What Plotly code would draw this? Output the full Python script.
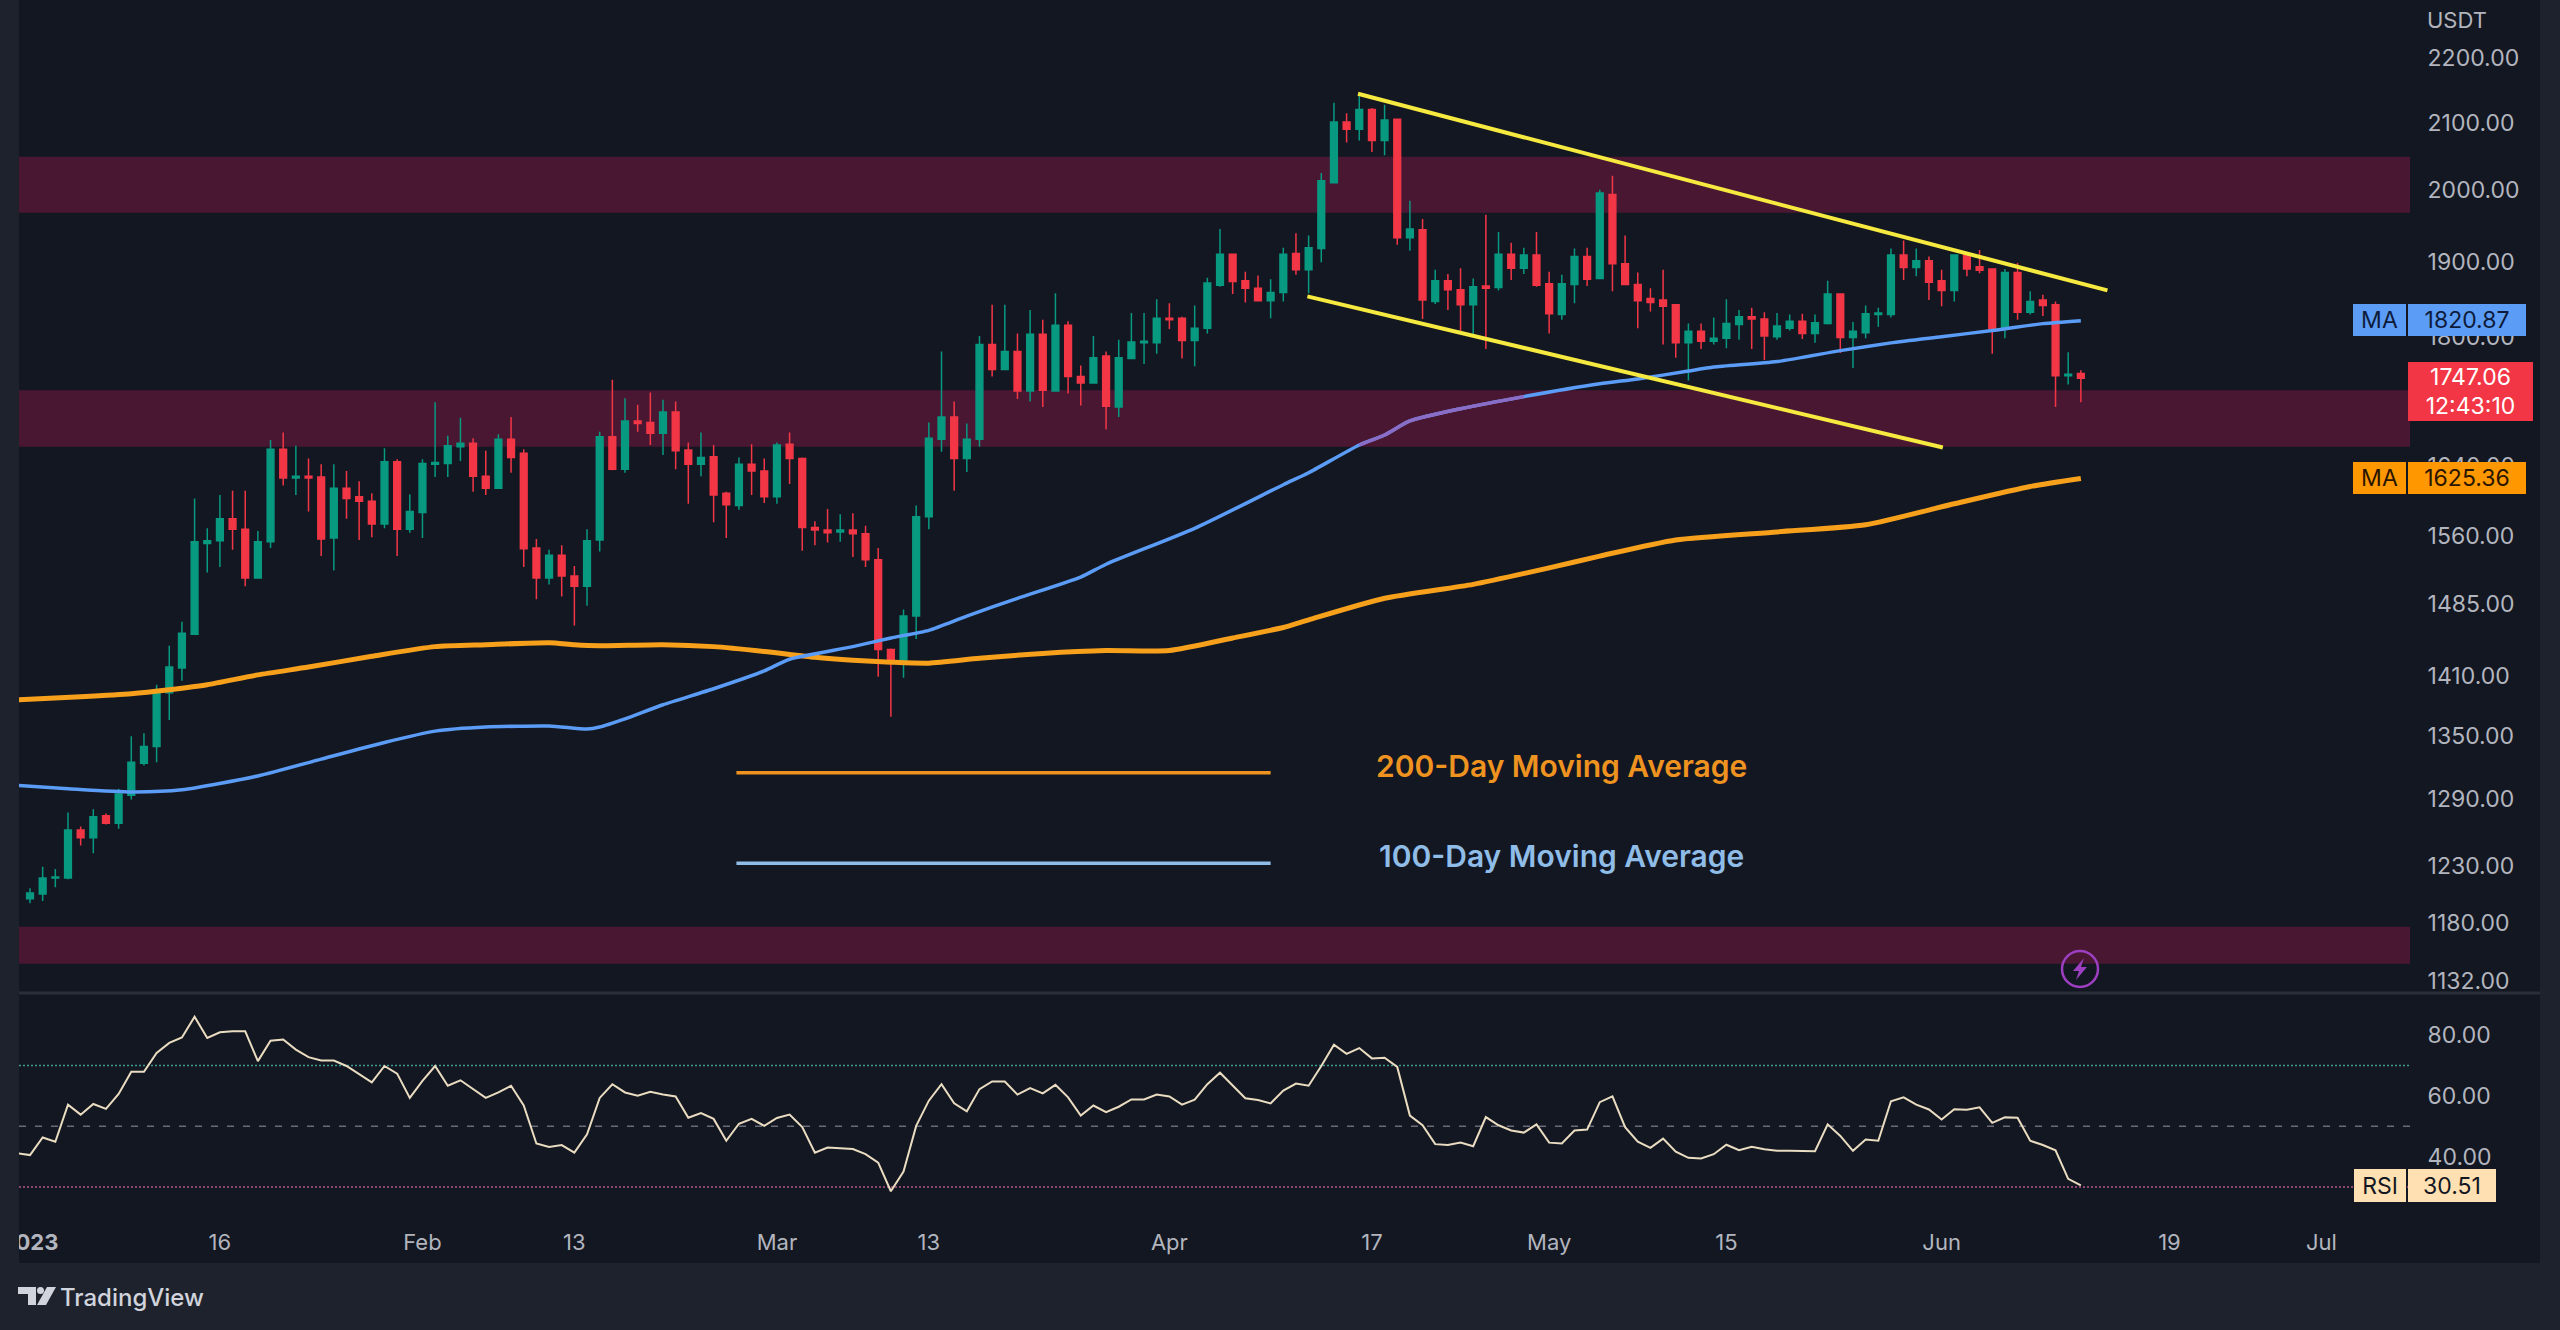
# ETH/USDT daily chart with moving averages and RSI pane (TradingView look)
import math
import pandas as pd
import plotly.graph_objects as go
from plotly.subplots import make_subplots

# ----------------------
# Data
# ----------------------

START = pd.Timestamp("2023-01-01")

candle_open = [
    1201, 1205, 1219, 1219, 1262, 1255, 1275, 1268, 1294, 1324,
    1340, 1393, 1418, 1453, 1551, 1554, 1579, 1567, 1513, 1553,
    1660, 1626, 1628, 1627, 1557, 1614, 1604, 1599, 1573, 1645,
    1567, 1586, 1642, 1643, 1663, 1667, 1628, 1614, 1672, 1655,
    1546, 1513, 1538, 1515, 1504, 1555, 1675, 1636, 1694, 1692,
    1679, 1705, 1659, 1642, 1651, 1608, 1594, 1642, 1634, 1604,
    1666, 1649, 1569, 1566, 1564, 1566, 1562, 1533, 1437, 1426,
    1472, 1581, 1672, 1699, 1649, 1672, 1790, 1758, 1781, 1731,
    1803, 1731, 1815, 1749, 1741, 1775, 1711, 1772, 1792, 1792,
    1824, 1824, 1795, 1811, 1868, 1910, 1874, 1864, 1847, 1858,
    1911, 1889, 1918, 2011, 2101, 2090, 2120, 2073, 2105, 1933,
    1944, 1846, 1874, 1862, 1842, 1867, 1865, 1910, 1891, 1909,
    1870, 1829, 1869, 1907, 1877, 1994, 1897, 1869, 1850, 1848,
    1842, 1792, 1807, 1794, 1798, 1816, 1826, 1823, 1800, 1811,
    1820, 1804, 1817, 1856, 1799, 1805, 1829, 1829, 1909, 1892,
    1901, 1874, 1861, 1909, 1893, 1890, 1811, 1885, 1832, 1848,
    1842, 1750, 1753,
]
candle_close = [
    1206, 1219, 1220, 1262, 1255, 1274, 1268, 1295, 1325, 1340,
    1393, 1419, 1454, 1553, 1554, 1579, 1567, 1513, 1553, 1660,
    1626, 1628, 1626, 1556, 1614, 1602, 1599, 1573, 1645, 1567,
    1587, 1643, 1644, 1664, 1667, 1628, 1614, 1672, 1650, 1545,
    1513, 1538, 1515, 1504, 1554, 1675, 1636, 1694, 1691, 1679,
    1705, 1658, 1642, 1650, 1606, 1595, 1642, 1634, 1604, 1665,
    1649, 1569, 1566, 1563, 1566, 1562, 1533, 1437, 1426, 1472,
    1581, 1673, 1699, 1649, 1672, 1790, 1758, 1781, 1731, 1803,
    1732, 1815, 1749, 1741, 1773, 1712, 1773, 1793, 1794, 1824,
    1822, 1795, 1811, 1871, 1910, 1873, 1864, 1847, 1858, 1910,
    1889, 1919, 2014, 2101, 2090, 2120, 2073, 2104, 1933, 1945,
    1848, 1874, 1862, 1842, 1866, 1864, 1910, 1891, 1909, 1868,
    1830, 1870, 1907, 1876, 1996, 1897, 1869, 1847, 1845, 1840,
    1792, 1807, 1794, 1798, 1817, 1826, 1823, 1801, 1814, 1820,
    1804, 1818, 1856, 1799, 1807, 1830, 1831, 1909, 1892, 1901,
    1872, 1861, 1909, 1890, 1888, 1811, 1885, 1832, 1846, 1841,
    1750, 1752, 1747.06,
]
candle_high = [
    1210, 1229, 1227, 1278, 1265, 1281, 1277, 1300, 1350, 1353,
    1401, 1441, 1466, 1602, 1568, 1606, 1611, 1611, 1565, 1671,
    1680, 1664, 1649, 1642, 1642, 1634, 1622, 1608, 1661, 1648,
    1607, 1648, 1717, 1676, 1698, 1673, 1658, 1678, 1699, 1660,
    1556, 1544, 1549, 1526, 1567, 1681, 1745, 1722, 1714, 1729,
    1720, 1718, 1668, 1680, 1665, 1610, 1650, 1666, 1649, 1668,
    1680, 1650, 1576, 1590, 1584, 1585, 1571, 1546, 1438, 1479,
    1594, 1692, 1781, 1718, 1691, 1801, 1842, 1842, 1804, 1835,
    1822, 1857, 1820, 1763, 1801, 1781, 1796, 1831, 1831, 1849,
    1844, 1826, 1841, 1878, 1945, 1911, 1886, 1881, 1876, 1919,
    1939, 1936, 2025, 2130, 2114, 2142, 2122, 2127, 2106, 1985,
    1959, 1889, 1883, 1891, 1877, 1965, 1941, 1926, 1919, 1941,
    1886, 1882, 1918, 1919, 2001, 2021, 1936, 1885, 1864, 1889,
    1843, 1817, 1817, 1825, 1849, 1835, 1838, 1832, 1831, 1829,
    1830, 1829, 1874, 1857, 1819, 1841, 1838, 1918, 1929, 1918,
    1907, 1889, 1910, 1910, 1916, 1891, 1890, 1898, 1860, 1855,
    1846, 1780, 1757,
]
candle_low = [
    1197, 1199, 1211, 1218, 1248, 1241, 1267, 1263, 1290, 1322,
    1325, 1366, 1405, 1452, 1519, 1525, 1544, 1504, 1512, 1546,
    1617, 1606, 1587, 1537, 1521, 1579, 1555, 1558, 1568, 1537,
    1563, 1557, 1627, 1627, 1646, 1610, 1606, 1613, 1632, 1525,
    1490, 1506, 1493, 1462, 1483, 1542, 1635, 1632, 1681, 1665,
    1653, 1636, 1596, 1628, 1575, 1557, 1589, 1606, 1597, 1596,
    1619, 1543, 1549, 1552, 1553, 1536, 1525, 1409, 1369, 1408,
    1448, 1567, 1657, 1611, 1633, 1663, 1749, 1757, 1721, 1718,
    1711, 1730, 1728, 1713, 1740, 1684, 1699, 1771, 1765, 1778,
    1810, 1772, 1762, 1804, 1866, 1856, 1845, 1846, 1824, 1846,
    1882, 1857, 1899, 2010, 2070, 2073, 2056, 2051, 1923, 1915,
    1823, 1843, 1835, 1807, 1803, 1784, 1861, 1875, 1883, 1866,
    1804, 1822, 1844, 1867, 1876, 1860, 1868, 1811, 1833, 1790,
    1773, 1744, 1784, 1790, 1785, 1796, 1784, 1770, 1796, 1808,
    1797, 1792, 1816, 1779, 1760, 1798, 1813, 1825, 1875, 1880,
    1848, 1840, 1846, 1880, 1884, 1778, 1798, 1822, 1829, 1827,
    1711, 1739, 1717,
]

# moving averages: day offset from START and value
ma100_days = [-1, 3, 8, 12, 18, 23, 28, 32, 36, 41, 44, 45, 47, 50, 54, 58, 60, 65, 68, 71, 74, 78,
              83, 85, 92, 99, 101, 105, 107, 109, 113, 118, 124, 127, 131, 133, 138, 143, 147, 151,
              155, 159, 162]
ma100_values = [1303, 1300, 1297, 1299, 1312, 1328, 1344, 1355, 1359, 1360, 1357, 1359, 1367, 1381,
                1397, 1415, 1427, 1440, 1449, 1457, 1472, 1491, 1514, 1528, 1568, 1618, 1632, 1665,
                1677, 1694, 1709, 1724, 1740, 1746, 1756, 1761, 1768, 1782, 1792, 1800, 1808, 1817,
                1820.87]
ma200_days = [-1, 4, 8, 11, 14, 18, 22, 27, 32, 36, 41, 43, 45, 50, 54, 58, 62, 65, 68, 71, 75, 80,
              85, 90, 95, 99, 101, 107, 114, 120, 124, 130, 138, 145, 152, 158, 162]
ma200_values = [1386, 1389, 1392, 1396, 1401, 1411, 1419, 1430, 1440, 1442, 1444, 1442, 1441, 1442,
                1440, 1435, 1429, 1426, 1424, 1423, 1428, 1433, 1436, 1436, 1449, 1460, 1468, 1491,
                1506, 1524, 1537, 1555, 1564, 1572, 1596, 1616, 1625.36]

# RSI, one value a day starting 31 Dec 2022
rsi_values = [
    41.1, 40.5, 46.3, 44.9, 57.1, 53.8, 57.3, 55.7, 60.6, 67.9,
    67.9, 74.1, 77.4, 79.2, 86.0, 79.0, 80.9, 81.2, 81.2, 71.4,
    78.1, 78.5, 75.2, 72.7, 71.6, 71.6, 69.8, 67.1, 64.4, 69.8,
    67.3, 59.3, 64.9, 69.8, 63.3, 65.1, 62.2, 59.3, 61.1, 63.3,
    56.8, 44.3, 43.2, 43.8, 41.3, 47.3, 59.3, 63.8, 61.1, 60.0,
    61.3, 60.4, 59.8, 52.8, 54.3, 52.4, 45.2, 50.8, 52.4, 50.1,
    52.7, 53.8, 49.7, 41.3, 43.0, 42.7, 42.5, 40.8, 38.0, 28.6,
    35.1, 50.1, 58.4, 63.8, 57.5, 54.9, 62.2, 64.7, 64.7, 60.4,
    62.5, 60.8, 63.6, 59.5, 53.5, 56.8, 54.6, 56.4, 58.8, 58.8,
    60.4, 59.8, 57.1, 58.7, 63.8, 67.6, 63.3, 59.2, 58.6, 57.5,
    61.7, 64.0, 63.3, 69.8, 76.8, 73.8, 75.7, 72.3, 72.5, 69.5,
    53.5, 50.3, 44.1, 43.8, 44.6, 43.4, 53.0, 50.3, 48.6, 47.9,
    50.6, 44.6, 44.3, 48.6, 48.9, 57.9, 59.8, 49.7, 44.9, 42.9,
    45.9, 41.6, 39.6, 39.4, 40.8, 43.9, 42.1, 43.2, 42.4, 41.9,
    41.9, 41.8, 41.8, 50.6, 46.8, 41.9, 45.6, 45.2, 58.2, 59.5,
    57.1, 55.5, 52.2, 55.6, 55.4, 56.2, 51.1, 52.9, 52.8, 45.2,
    43.8, 42.1, 32.7, 30.51,
]
rsi_levels = [70, 50, 30]

# drawn trend lines and legend lines: (day offset, price)
channel_top_days = [104.9, 164.1]
channel_top_prices = [2144, 1861]
channel_bottom_days = [100.9, 151.1]
channel_bottom_prices = [1853, 1662]
legend_days = [55.8, 98]
legend_200_prices = [1315, 1315]
legend_100_prices = [1232, 1232]

# supply/demand zones (low, high)
zones = [(1968, 2049), (1663, 1732), (1146, 1177)]

# 1720.00 sits fully behind the last-price label in the reference, so it is left out
price_ticks = [2200, 2100, 2000, 1900, 1800, 1640, 1560, 1485, 1410, 1350, 1290, 1230, 1180, 1132]
rsi_ticks = [80, 60, 40]
date_ticks = ["2023-01-01", "2023-01-16", "2023-02-01", "2023-02-13", "2023-03-01", "2023-03-13",
              "2023-04-01", "2023-04-17", "2023-05-01", "2023-05-15", "2023-06-01", "2023-06-19",
              "2023-07-01"]
date_labels = ["<b>2023</b>", "16", "Feb", "13", "Mar", "13", "Apr", "17", "May", "15", "Jun", "19", "Jul"]

LAST_PRICE = 1747.06
MA100_LAST = 1820.87
MA200_LAST = 1625.36
RSI_LAST = 30.51

# ----------------------
# Colours and helpers
# ----------------------

FRAME = "#1e222d"
PANE = "#131722"
ZONE = "#4a1732"
UP = "#089981"
DOWN = "#f23645"
BLUE = "#5b9cf6"
ORANGE = "#f7a01c"
AXIS_TEXT = "#b2b5be"
FONT = "Inter"
W, H = 2560, 1330


def on_days(offsets):
    return [START + pd.Timedelta(days=o) for o in offsets]


def px_x(x):
    return x / W


def px_y(y):
    return 1 - y / H


candle_dates = pd.date_range(START, periods=len(candle_open), freq="D")
rsi_dates = pd.date_range(START - pd.Timedelta(days=1), periods=len(rsi_values), freq="D")

fig = make_subplots(rows=2, cols=1, shared_xaxes=False, vertical_spacing=0)

# ----------------------
# Traces
# ----------------------

fig.add_trace(go.Candlestick(
    x=candle_dates, open=candle_open, high=candle_high, low=candle_low, close=candle_close,
    increasing=dict(line=dict(color=UP, width=1.5), fillcolor=UP),
    decreasing=dict(line=dict(color=DOWN, width=1.5), fillcolor=DOWN),
    whiskerwidth=0,
), row=1, col=1)

fig.add_trace(go.Scatter(x=on_days(ma200_days), y=ma200_values, mode="lines",
                         line=dict(color=ORANGE, width=5, shape="spline", smoothing=0.6)), row=1, col=1)
fig.add_trace(go.Scatter(x=on_days(ma100_days), y=ma100_values, mode="lines",
                         line=dict(color=BLUE, width=3.5, shape="spline", smoothing=0.6)), row=1, col=1)

# the blue average looks purple where it passes under the middle zone
in_zone = [(d, v) for d, v in zip(ma100_days, ma100_values) if zones[1][0] <= v <= zones[1][1]]
fig.add_trace(go.Scatter(x=on_days([p[0] for p in in_zone]), y=[p[1] for p in in_zone], mode="lines",
                         line=dict(color="#8b6cc6", width=3.5, shape="spline", smoothing=0.6)), row=1, col=1)

for days, prices in [(channel_top_days, channel_top_prices), (channel_bottom_days, channel_bottom_prices)]:
    fig.add_trace(go.Scatter(x=on_days(days), y=prices, mode="lines",
                             line=dict(color="#f6e93f", width=4)), row=1, col=1)

fig.add_trace(go.Scatter(x=on_days(legend_days), y=legend_200_prices, mode="lines",
                         line=dict(color="#ef9320", width=3.5)), row=1, col=1)
fig.add_trace(go.Scatter(x=on_days(legend_days), y=legend_100_prices, mode="lines",
                         line=dict(color="#8fbde8", width=3.5)), row=1, col=1)

fig.add_trace(go.Scatter(x=rsi_dates, y=rsi_values, mode="lines",
                         line=dict(color="#eadcc0", width=2)), row=2, col=1)

# ----------------------
# Background, zones, levels
# ----------------------

# pane background
fig.add_shape(type="rect", xref="paper", yref="paper", layer="below", line_width=0, fillcolor=PANE,
              x0=px_x(19), x1=px_x(2540), y0=px_y(1263), y1=px_y(0))

for low, high in zones:
    fig.add_shape(type="rect", xref="x domain", yref="y", layer="below", line_width=0, fillcolor=ZONE,
                  x0=0, x1=1, y0=low, y1=high)

# line between the panes
fig.add_shape(type="line", xref="paper", yref="paper", layer="below",
              x0=px_x(19), x1=px_x(2540), y0=px_y(993), y1=px_y(993),
              line=dict(color="#2a2e39", width=3))

level_styles = [("#3f9c8c", "2px,2px"), ("#6a6d78", "7px,9px"), ("#b0578a", "2px,2px")]
for level, (colour, dash) in zip(rsi_levels, level_styles):
    fig.add_shape(type="line", xref="x2 domain", yref="y2", layer="below",
                  x0=0, x1=1, y0=level, y1=level, line=dict(color=colour, width=1.5, dash=dash))

# left strip hides the part of the first date label that runs off the pane
fig.add_shape(type="rect", xref="paper", yref="paper", layer="above", line_width=0, fillcolor=FRAME,
              x0=0, x1=px_x(19), y0=0, y1=1)

# lightning badge
fig.add_shape(type="circle", xref="paper", yref="paper", layer="above",
              x0=px_x(2062), x1=px_x(2098), y0=px_y(987), y1=px_y(951),
              line=dict(color="#9c3fc0", width=2.5), fillcolor="rgba(0,0,0,0)")
bolt = [(2084, 958), (2073, 971), (2079, 971), (2076, 980), (2087, 967), (2081, 967)]
fig.add_shape(type="path", xref="paper", yref="paper", layer="above", line_width=0, fillcolor="#9c3fc0",
              path="M " + " L ".join(f"{px_x(x):.5f},{px_y(y):.5f}" for x, y in bolt) + " Z")

# TradingView mark
fig.add_shape(type="path", xref="paper", yref="paper", layer="above", line_width=0, fillcolor="#d1d4dc",
              path="M " + " L ".join(f"{px_x(x):.5f},{px_y(y):.5f}" for x, y in
                                     [(18, 1287), (36, 1287), (36, 1305), (28, 1305), (28, 1294), (18, 1294)]) + " Z")
fig.add_shape(type="circle", xref="paper", yref="paper", layer="above", line_width=0, fillcolor="#d1d4dc",
              x0=px_x(37), x1=px_x(44), y0=px_y(1294), y1=px_y(1287))
fig.add_shape(type="path", xref="paper", yref="paper", layer="above", line_width=0, fillcolor="#d1d4dc",
              path="M " + " L ".join(f"{px_x(x):.5f},{px_y(y):.5f}" for x, y in
                                     [(47, 1287), (56, 1287), (46, 1305), (37, 1305)]) + " Z")

# ----------------------
# Texts and value badges
# ----------------------


def text(x, y, label, colour, size, weight=400):
    fig.add_annotation(xref="paper", yref="paper", x=px_x(x), y=px_y(y), text=label, showarrow=False,
                       xanchor="center", yanchor="middle",
                       font=dict(family=FONT, size=size, color=colour, weight=weight))


def badge(x0, x1, y0, y1, label, fill, colour):
    fig.add_annotation(xref="paper", yref="paper", x=px_x((x0 + x1) / 2), y=px_y((y0 + y1) / 2),
                       text=label, showarrow=False, bgcolor=fill, width=x1 - x0, height=y1 - y0,
                       xanchor="center", yanchor="middle",
                       borderpad=0, borderwidth=0, align="center", valign="middle",
                       font=dict(family=FONT, size=23, color=colour))


text(1561, 766, "200-Day Moving Average", "#ef9320", 30, weight=600)
text(1561, 856, "100-Day Moving Average", "#8fbde8", 30, weight=600)
text(2457, 20, "USDT", AXIS_TEXT, 22)
text(132, 1297, "TradingView", "#d1d4dc", 24, weight=500)

badge(2353, 2406, 304, 336, "MA", BLUE, "#0e1b3a")
badge(2408, 2526, 304, 336, f"{MA100_LAST:.2f}", BLUE, "#0e1b3a")
badge(2353, 2406, 462, 494, "MA", "#ff9800", "#2a1500")
badge(2408, 2526, 462, 494, f"{MA200_LAST:.2f}", "#ff9800", "#2a1500")
badge(2408, 2533, 362, 421, f"{LAST_PRICE:.2f}<br>12:43:10", DOWN, "#ffffff")
badge(2354, 2406, 1169, 1202, "RSI", "#ffe0b2", PANE)
badge(2408, 2496, 1169, 1202, f"{RSI_LAST:.2f}", "#ffe0b2", PANE)

# ----------------------
# Layout and axes
# ----------------------

x_range = [START + pd.Timedelta(days=-0.87), START + pd.Timedelta(days=188)]
x_domain = [px_x(19), px_x(2410)]
date_font = dict(family=FONT, size=22, color=AXIS_TEXT)
price_font = dict(family=FONT, size=23, color=AXIS_TEXT)

fig.update_layout(
    width=W, height=H, showlegend=False, hovermode=False,
    margin=dict(l=0, r=0, t=0, b=0, autoexpand=False),
    paper_bgcolor=FRAME, plot_bgcolor="rgba(0,0,0,0)",
    boxgap=0.24,
)
fig.update_xaxes(range=x_range, domain=x_domain, showgrid=False, zeroline=False, showline=False,
                 rangeslider_visible=False, type="date", automargin=False)
fig.update_xaxes(showticklabels=False, ticks="", row=1, col=1)
fig.update_xaxes(tickmode="array", tickvals=date_ticks, ticktext=date_labels, tickfont=date_font,
                 ticks="outside", ticklen=1, tickcolor="rgba(0,0,0,0)", tickangle=0, row=2, col=1)
fig.update_yaxes(type="log", range=[math.log10(1123.0), math.log10(2293.7)], domain=[px_y(992), 1],
                 side="right", showgrid=False, zeroline=False, showline=False, automargin=False,
                 tickmode="array", tickvals=price_ticks, ticktext=[f"{t:.2f}" for t in price_ticks],
                 tickfont=price_font, ticks="outside", ticklen=12, tickcolor="rgba(0,0,0,0)", row=1, col=1)
fig.update_yaxes(range=[18.5, 93.8], domain=[px_y(1222), px_y(993)],
                 side="right", showgrid=False, zeroline=False, showline=False, automargin=False,
                 tickmode="array", tickvals=rsi_ticks, ticktext=[f"{t:.2f}" for t in rsi_ticks],
                 tickfont=price_font, ticks="outside", ticklen=12, tickcolor="rgba(0,0,0,0)", row=2, col=1)

fig.write_html("out.html", config=dict(displayModeBar=False),
               post_script="document.body.style.margin='0';document.documentElement.style.overflow='hidden';")
